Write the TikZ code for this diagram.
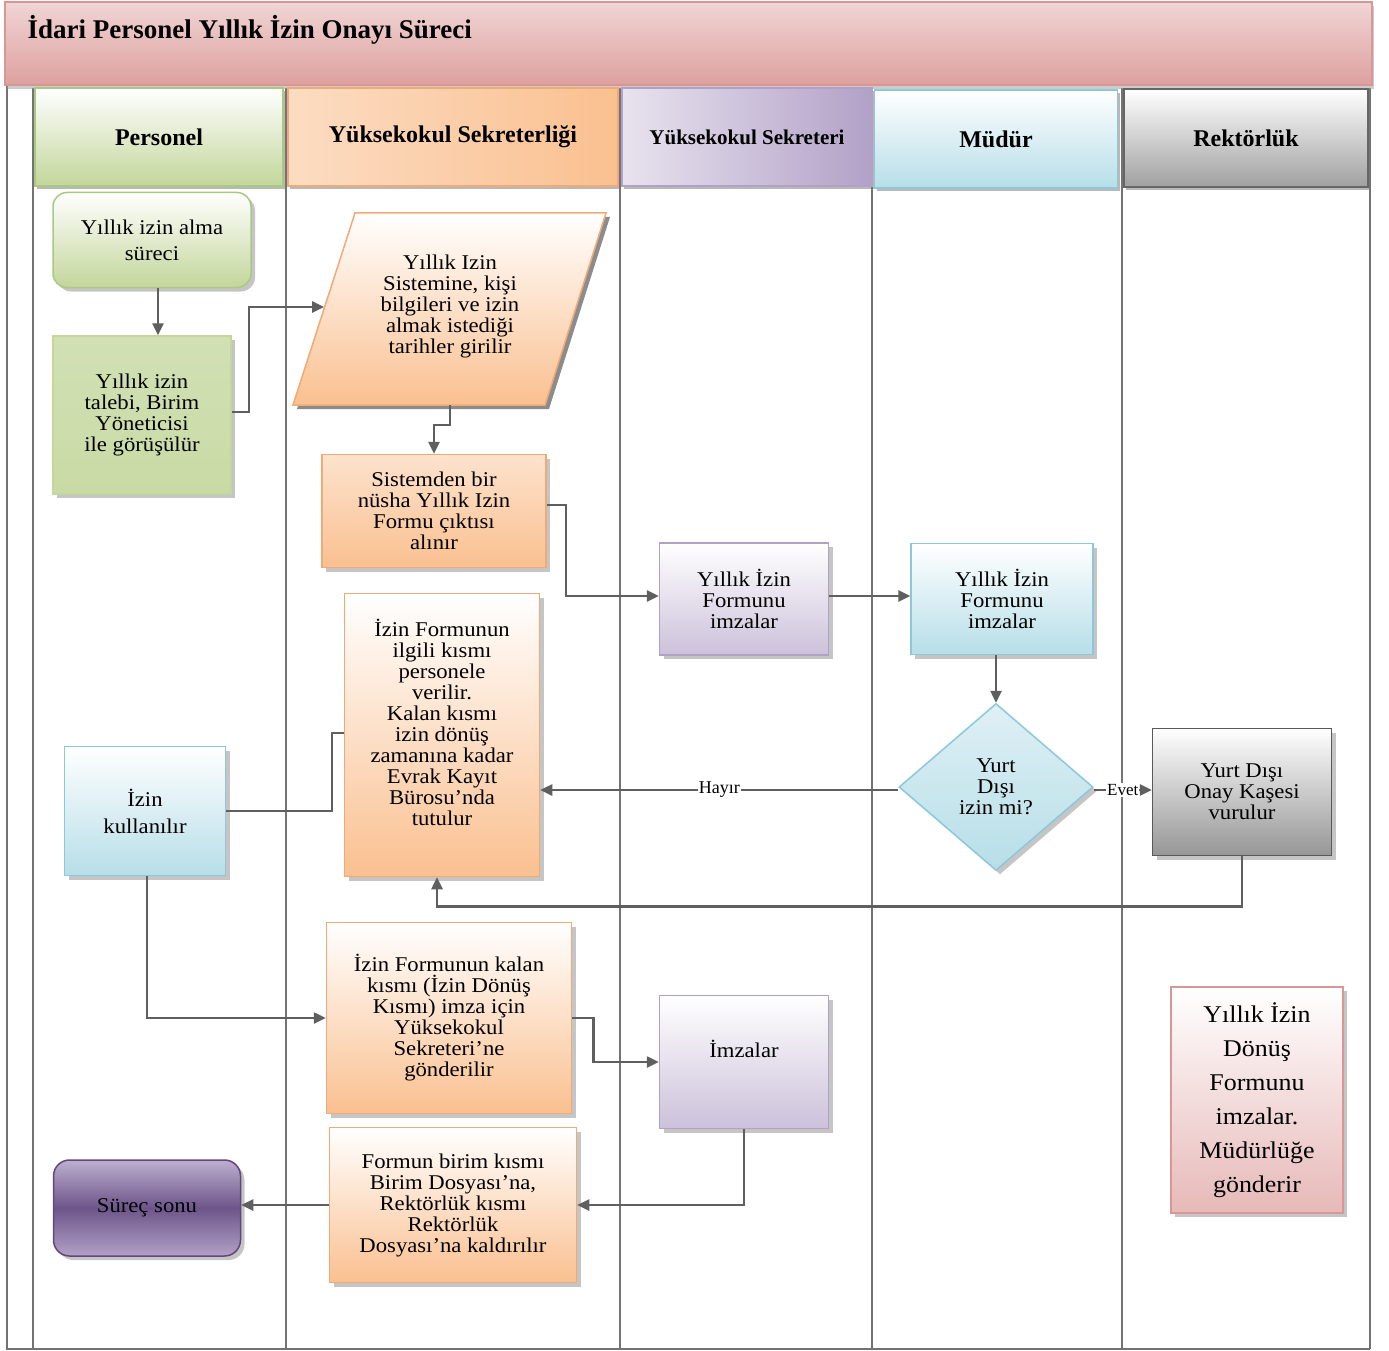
\documentclass[tikz,border=0pt]{standalone}
\usepackage{fontspec}
\setmainfont{Liberation Serif}
\newfontfamily\boxfont[FakeStretch=1.08]{Liberation Serif}
\usetikzlibrary{shapes.geometric,arrows.meta,shadows,calc}
\definecolor{grnD}{RGB}{195,214,155}
\definecolor{grnB}{RGB}{170,200,130}
\definecolor{orD}{RGB}{250,192,144}
\definecolor{orB}{RGB}{240,170,120}
\definecolor{puD}{RGB}{204,193,218}
\definecolor{puM}{RGB}{178,161,199}
\definecolor{puB}{RGB}{128,100,162}
\definecolor{puX}{RGB}{96,73,122}
\definecolor{blD}{RGB}{183,222,232}
\definecolor{blB}{RGB}{140,200,218}
\definecolor{gyD}{RGB}{150,150,150}
\definecolor{pkD}{RGB}{230,185,184}
\definecolor{pkB}{RGB}{217,150,148}
\definecolor{pkL}{RGB}{244,222,222}
\definecolor{lanec}{RGB}{115,115,115}
\definecolor{connc}{RGB}{95,95,95}
\begin{document}
\begin{tikzpicture}[x=1pt,y=-1pt,
  lane/.style={draw=lanec, line width=2pt},
  shd/.style={drop shadow={shadow xshift=4pt,shadow yshift=-4pt,fill=black!45}},
  box/.style={rectangle, align=center, inner sep=2pt, line width=1.5pt, shd,
              font=\boxfont\fontsize{21}{21}\selectfont},
  hdr/.style={rectangle, align=center, line width=1.5pt, minimum height=98pt,
              drop shadow={shadow xshift=2pt,shadow yshift=-3pt,fill=black!55},
              font=\fontsize{24}{26}\selectfont\bfseries},
  orbox/.style={box, draw=orB, top color=white, bottom color=orD},
  pubox/.style={box, draw=puM, top color=white, bottom color=puD},
  blbox/.style={box, draw=blB, top color=white, bottom color=blD},
  conn/.style={draw=connc, line width=2.5pt},
  arr/.style={conn, -{Triangle[length=12pt,width=11pt]}},
  lbl/.style={font=\fontsize{18}{18}\selectfont, inner sep=1pt, fill=white}
]
\useasboundingbox (0,0) rectangle (1389,1351);
\fill[white] (0,0) rectangle (1389,1351);

% frame and lanes
\draw[lane] (7,85) -- (7,1349) -- (1370,1349);
\foreach \x in {33,286,620,872,1122,1370} \draw[lane] (\x,88) -- (\x,1349);

% banner
\node[rectangle, draw=pkB, line width=1.5pt, minimum width=1367pt, minimum height=83pt,
      top color=pkL!75!pkD, middle color=pkL, bottom color=pkB!90,
      drop shadow={shadow xshift=2pt,shadow yshift=-4pt,fill=black!40}]
      (banner) at (688.5,43.5) {};
\node[anchor=west, font=\fontsize{27}{30}\selectfont\bfseries] (title) at (24,30)
      {İdari Personel Yıllık İzin Onayı Süreci};

% headers
\node[hdr, draw=grnB, top color=white, bottom color=grnD, minimum width=248pt] (h1) at (159,137) {Personel};
\node[hdr, draw=orB, left color=orD!55!white, right color=orD, minimum width=330pt] (h2) at (453,137) {Yüksekokul Sekreterliği};
\node[hdr, draw=puM, left color=puD!45!white, right color=puM, minimum width=250pt,
      font=\fontsize{21}{24}\selectfont\bfseries] (h3) at (747,137) {Yüksekokul Sekreteri};
\node[hdr, draw=blB, top color=white, bottom color=blD, minimum width=243pt] (h4) at (996,139) {Müdür};
\node[hdr, draw=black!60, top color=white, bottom color=gyD!90, minimum width=244pt] (h5) at (1246,138) {Rektörlük};

% nodes
\node[box, draw=grnB, top color=white, bottom color=grnD, rounded corners=14pt,
      minimum width=198pt, minimum height=95pt, font=\boxfont\fontsize{21}{26}\selectfont]
      (n1) at (152,240) {Yıllık izin alma\\süreci};
\node[box, draw=grnD, top color=grnD!75!white, bottom color=grnD!90, minimum width=178pt, minimum height=158pt]
      (n2) at (142,415) {Yıllık izin\\talebi, Birim\\Yöneticisi\\ile görüşülür};

% parallelogram
\fill[black!45] (359,217) -- (610,217) -- (549,409) -- (297,409) -- cycle;
\shade[top color=white, bottom color=orD, draw=orB, line width=1.5pt]
      (355,213) -- (606,213) -- (545,405) -- (293,405) -- cycle;
\node[align=center, font=\boxfont\fontsize{21}{21}\selectfont] (n3) at (450,306)
      {Yıllık Izin\\Sistemine, kişi\\bilgileri ve izin\\almak istediği\\tarihler girilir};
\coordinate (n3w) at (324,307);
\coordinate (n3s) at (450,405);

\node[orbox, top color=orD!45!white, minimum width=224pt, minimum height=113pt]
      (n4) at (434,511) {Sistemden bir\\nüsha Yıllık Izin\\Formu çıktısı\\alınır};
\node[orbox, minimum width=195pt, minimum height=283pt]
      (n5) at (442,735) {İzin Formunun\\ilgili kısmı\\personele\\verilir.\\Kalan kısmı\\izin dönüş\\zamanına kadar\\Evrak Kayıt\\Bürosu’nda\\tutulur\\[4pt]};
\node[pubox, minimum width=169pt, minimum height=112pt]
      (n6) at (744,599) {Yıllık İzin\\Formunu\\imzalar};
\node[blbox, minimum width=182pt, minimum height=111pt]
      (n7) at (1002,599) {Yıllık İzin\\Formunu\\imzalar};
\node[diamond, draw=blB, line width=1.5pt, top color=blD!45!white, bottom color=blD, shd,
      minimum width=194pt, minimum height=167pt, inner sep=0pt, align=center,
      font=\boxfont\fontsize{21}{21}\selectfont]
      (n8) at (996,787) {Yurt\\Dışı\\izin mi?};
\node[box, draw=black!65, top color=white, bottom color=gyD, minimum width=179pt, minimum height=127pt]
      (n9) at (1242,792) {Yurt Dışı\\Onay Kaşesi\\vurulur};
\node[blbox, minimum width=161pt, minimum height=129pt, font=\boxfont\fontsize{21}{27}\selectfont]
      (n10) at (145,811) {İzin\\kullanılır};
\node[orbox, minimum width=245pt, minimum height=191pt]
      (n11) at (449,1018) {İzin Formunun kalan\\kısmı (İzin Dönüş\\Kısmı) imza için\\Yüksekokul\\Sekreteri’ne\\gönderilir};
\node[pubox, minimum width=169pt, minimum height=133pt]
      (n12) at (744,1062) {İmzalar\\[6pt]};
\node[orbox, minimum width=247pt, minimum height=155pt]
      (n13) at (453,1205) {Formun birim kısmı\\Birim Dosyası’na,\\Rektörlük kısmı\\Rektörlük\\Dosyası’na kaldırılır};
\node[box, draw=puX, rounded corners=16pt, top color=puM!85!white, bottom color=puM, middle color=puB!85!black,
      minimum width=187pt, minimum height=96pt]
      (n14) at (147,1208) {Süreç sonu};
\node[box, draw=pkB, top color=white, bottom color=pkD, minimum width=172pt, minimum height=226pt,
      font=\boxfont\fontsize{24}{34}\selectfont]
      (n15) at (1257,1100) {Yıllık İzin\\Dönüş\\Formunu\\imzalar.\\Müdürlüğe\\gönderir};

% connectors
\draw[arr] ([xshift=6pt]n1.south) -- ([xshift=6pt]n1.south |- n2.north);
\draw[arr] ([yshift=3pt]n2.east) -- ++(17,0) |- (n3w);
\draw[arr] (n3s) -- ++(0,20) -| (n4.north);
\draw[arr] ([yshift=6pt]n4.east) -- ++(19,0) |- ([yshift=3pt]n6.west);
\draw[arr] ([yshift=3pt]n6.east) -- ([yshift=3pt]n7.west);
\draw[arr] (n8.north |- n7.south) -- (n8.north);
\draw[arr] ([yshift=-3pt]n8.west) -- ([yshift=-3pt]n5.east |- n8.west)
      node[midway, lbl] {Hayır};
\draw[arr] ([yshift=-3pt]n8.east) -- ([yshift=-3pt]n9.west |- n8.east)
      node[midway, lbl, font=\fontsize{17}{17}\selectfont] {Evet};
\draw[arr] (n9.south) -- ++(0,50) -| ([xshift=-5pt]n5.south);
\draw[conn] ([yshift=2pt]n5.west) -- ++(-12,0) |- (n10.east);
\draw[arr] ([xshift=2pt]n10.south) |- (n11.west);
\draw[arr] (n11.east) -- ++(21,0) |- (n12.west);
\draw[arr] (n12.south) |- (n13.east);
\draw[arr] (n13.west) -- (n14.east |- n13.west);
\end{tikzpicture}
\end{document}
